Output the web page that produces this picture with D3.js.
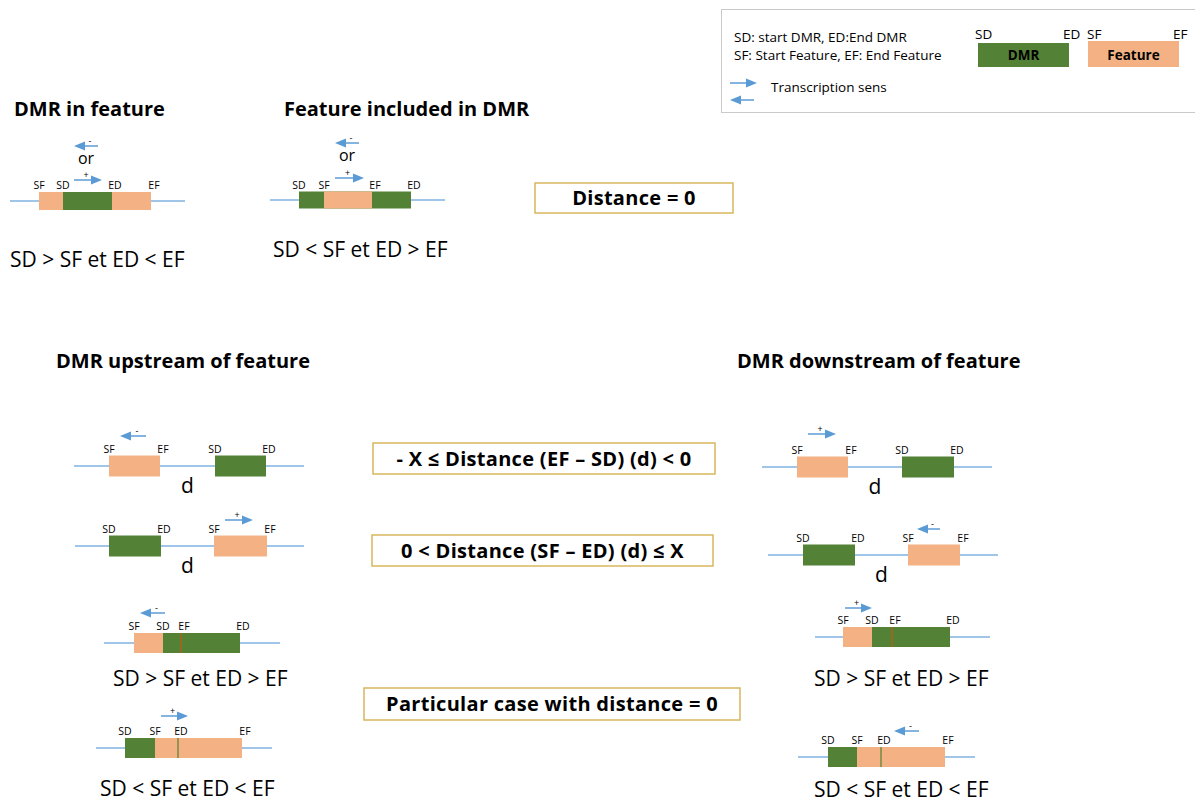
<!DOCTYPE html>
<html><head><meta charset="utf-8">
<script src="https://cdn.jsdelivr.net/npm/d3@7"></script>
<style>body{margin:0;background:#fff}svg{display:block}text{font-family:"Open Sans",sans-serif;fill:#000}</style>
</head><body><svg id="c" width="1195" height="803"></svg>
<script>
// ---------- data (genomic units) ----------
const diagramIds   = ["inFeature","featureInDmr","up1","up2","down1","down2","upP1","upP2","downP1","downP2"];
const lineLength   = [1750,1750,2300,2290,2300,2300,1760,1760,1750,1770];
const featureStart = [290, 540, 350,1390, 350,1400, 300, 590, 280, 590];
const featureEnd   = [1410,1020, 860,1920, 860,1920, 770,1460, 770,1470];
const dmrStart     = [530, 290,1410, 340,1400, 350, 590, 290, 570, 300];
const dmrEnd       = [1020,1410,1920, 860,1920, 870,1360, 820,1350, 830];
const topElement   = ["dmr","feature","dmr","feature","dmr","feature","dmr","feature","dmr","feature"];
const hiddenMarker = [null,null,null,null,null,null,"EF","ED","EF","ED"];
const strandMinus  = [[880,640],[890,650],[720,460],null,null,[1720,1490],[610,360],null,null,[1210,960]];
const strandPlus   = [[640,920],[650,940],null,[1500,1780],[460,740],null,null,[650,920],[300,570],null];
const showDistance = [false,false,true,true,true,true,false,false,false,false];
const panelTitles  = ["DMR in feature","Feature included in DMR","DMR upstream of feature","DMR downstream of feature"];
const conditionText= ["SD > SF et ED < EF","SD < SF et ED > EF","SD > SF et ED > EF","SD < SF et ED < EF","SD > SF et ED > EF","SD < SF et ED < EF"];
const ruleText     = ["Distance = 0","- X \u2264 Distance (EF \u2013 SD) (d) < 0","0 < Distance (SF \u2013 ED) (d) \u2264 X","Particular case with distance = 0"];
const legendLines  = ["SD: start DMR, ED:End DMR","SF: Start Feature, EF: End Feature"];
const legendArrowText = "Transcription sens";
const legendBoxes  = [{name:"DMR",start:"SD",end:"ED"},{name:"Feature",start:"SF",end:"EF"}];

// ---------- layout / style ----------
const C = {feature:"#F4B183", dmr:"#538135", line:"#7FB2E0", arrow:"#5B9BD5", box:"#D8B85E", legend:"#CACACA", efMark:"#C55A11", edMark:"#538135"};
const layout = [
  {x:10, y:201, h:18, ay:[-55,-21], or:-37},
  {x:270,y:200, h:17, ay:[-57,-22], or:-39},
  {x:74, y:466, h:21, ay:[-30]},
  {x:75, y:546, h:21, ay:[-26]},
  {x:762,y:467, h:21, ay:[-33]},
  {x:768,y:555, h:21, ay:[-26]},
  {x:104,y:643, h:20, ay:[-30]},
  {x:96, y:748, h:20, ay:[-32]},
  {x:815,y:637, h:20, ay:[-29]},
  {x:798,y:757, h:20, ay:[-26]}
];
const titlePos = [[14,116],[284,116],[56,368],[737,368]];
const condPos  = [[10,267],[273,257],[113,686],[100,796],[814,686],[814,797]];
const boxPos   = [[535,183,198,30],[373,443,342,31],[372,535,341,31],[364,688,376,32]];

const svg = d3.select("#c");

function arrow(g, x1, x2, y, sign){
  const dir = Math.sign(x2-x1);
  g.append("line").attr("x1",x1).attr("x2",x2-dir*9).attr("y1",y).attr("y2",y)
    .attr("stroke",C.arrow).attr("stroke-width",1.5);
  g.append("path").attr("d",`M${x2},${y} L${x2-dir*11},${y-4.5} L${x2-dir*11},${y+4.5} Z`).attr("fill",C.arrow);
  if(sign){
    g.append("text").attr("x",(x1+x2)/2 + (sign==="-"?dir*-4:-2)).attr("y",y-2).attr("text-anchor","middle")
      .attr("font-size",9).text(sign);
  }
}

diagramIds.forEach((id,i)=>{
  const L = layout[i];
  const x = d3.scaleLinear().domain([0,lineLength[i]]).range([L.x, L.x+lineLength[i]/10]);
  const g = svg.append("g").attr("id",id);
  g.append("line").attr("x1",x(0)).attr("x2",x(lineLength[i])).attr("y1",L.y).attr("y2",L.y)
    .attr("stroke",C.line).attr("stroke-width",1.3);
  const rects = {
    feature:{s:featureStart[i],e:featureEnd[i],fill:C.feature},
    dmr:{s:dmrStart[i],e:dmrEnd[i],fill:C.dmr}
  };
  const order = topElement[i]==="dmr" ? ["feature","dmr"] : ["dmr","feature"];
  order.forEach(k=>{
    const r = rects[k];
    g.append("rect").attr("x",x(r.s)).attr("width",x(r.e)-x(r.s))
      .attr("y",L.y-L.h/2).attr("height",L.h).attr("fill",r.fill);
  });
  if(hiddenMarker[i]){
    const v = hiddenMarker[i]==="EF" ? featureEnd[i] : dmrEnd[i];
    g.append("line").attr("x1",x(v)).attr("x2",x(v)).attr("y1",L.y-L.h/2).attr("y2",L.y+L.h/2)
      .attr("stroke",hiddenMarker[i]==="EF"?C.efMark:C.edMark).attr("stroke-width",1.2);
  }
  const labels = [["SF",featureStart[i],0],["EF",featureEnd[i],3],["SD",dmrStart[i],0],["ED",dmrEnd[i],3]];
  labels.forEach(([t,v,dx])=>{
    g.append("text").attr("x",x(v)+dx).attr("y",L.y-L.h/2-3).attr("text-anchor","middle")
      .attr("font-size",10.5).text(t);
  });
  const arrows = [];
  if(strandMinus[i]) arrows.push([strandMinus[i],"-"]);
  if(strandPlus[i]) arrows.push([strandPlus[i],"+"]);
  arrows.forEach(([a,s],j)=>{ arrow(g, x(a[0]), x(a[1]), L.y+L.ay[j], s); });
  if(L.or){
    const mx = (x(strandPlus[i][0])+x(strandMinus[i][0]))/2;
    g.append("text").attr("x",mx).attr("y",L.y+L.or).attr("text-anchor","middle").attr("font-size",16).text("or");
  }
  if(showDistance[i]){
    const a = Math.min(featureEnd[i],dmrEnd[i]);
    const b = Math.max(featureStart[i],dmrStart[i]);
    g.append("text").attr("x",x((a+b)/2)).attr("y",L.y+27).attr("text-anchor","middle").attr("font-size",21).text("d");
  }
});

panelTitles.forEach((t,i)=>{
  svg.append("text").attr("x",titlePos[i][0]).attr("y",titlePos[i][1]).attr("font-size",20).attr("font-weight",700).text(t);
});
conditionText.forEach((t,i)=>{
  svg.append("text").attr("x",condPos[i][0]).attr("y",condPos[i][1]).attr("font-size",21).text(t);
});
ruleText.forEach((t,i)=>{
  const [bx,by,bw,bh] = boxPos[i];
  svg.append("rect").attr("x",bx).attr("y",by).attr("width",bw).attr("height",bh)
    .attr("fill","#fff").attr("stroke",C.box).attr("stroke-width",1.5);
  svg.append("text").attr("x",bx+bw/2).attr("y",by+bh/2+7).attr("text-anchor","middle")
    .attr("font-size",20).attr("letter-spacing",0.3).attr("font-weight",700).text(t);
});

// legend
const lg = svg.append("g");
lg.append("rect").attr("x",721.5).attr("y",9.5).attr("width",475).attr("height",103).attr("fill","#fff").attr("stroke",C.legend);
legendLines.forEach((t,i)=>{
  lg.append("text").attr("x",734).attr("y",42+i*18).attr("font-size",13.5).text(t);
});
arrow(lg,730,757,83,null);
arrow(lg,754,730,100,null);
lg.append("text").attr("x",771).attr("y",92).attr("font-size",13.5).text(legendArrowText);
const legendX = d3.scaleBand().domain(legendBoxes.map(d=>d.name)).range([978,1179]).paddingInner(0.173);
legendBoxes.forEach((d,i)=>{
  const x0 = legendX(d.name), w = legendX.bandwidth();
  lg.append("rect").attr("x",x0).attr("y",i===0?43:41).attr("width",w).attr("height",i===0?24:26).attr("fill",i===0?C.dmr:C.feature);
  lg.append("text").attr("x",x0+w/2).attr("y",60).attr("text-anchor","middle").attr("font-size",13.5).attr("font-weight",700).text(d.name);
  lg.append("text").attr("x",x0-(i===0?3:1)).attr("y",39).attr("font-size",13.5).text(d.start);
  lg.append("text").attr("x",x0+w-6).attr("y",39).attr("font-size",13.5).text(d.end);
});
</script></body></html>
